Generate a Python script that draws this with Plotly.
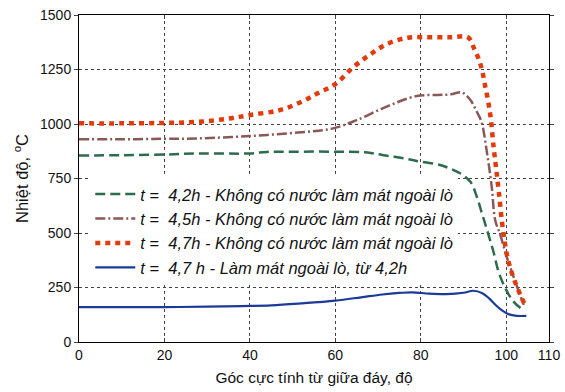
import plotly.graph_objects as go

# ---- data ----
x_42 = [0, 10, 20, 28, 40, 44, 50, 60, 67, 71, 77, 80, 84.5, 87, 89.2, 91.6, 93.1, 94.3, 95.5, 97, 98.2, 99.8, 101.7, 103.7]
y_42 = [855, 857, 860, 865, 865, 872, 873, 873, 870, 858, 839, 827, 812, 794, 774, 735, 667, 590, 514, 414, 322, 246, 185, 150]

x_45 = [0, 10, 20, 28, 40, 52, 59.5, 65, 72, 79, 84, 87, 89.6, 91.6, 93.1, 94.2, 95.5, 96.6, 97.4, 98.6, 100.2, 102.1, 104.1]
y_45 = [930, 930, 932, 934, 945, 962, 980, 1018, 1080, 1128, 1133, 1136, 1145, 1110, 1056, 1010, 866, 712, 560, 491, 385, 277, 170]

x_47 = [0, 10, 20, 28, 35, 40, 47, 52, 56, 60, 64, 68, 72, 77, 82, 87, 91, 92.5, 93.5, 94.3, 95, 95.8, 96.4, 97, 97.6, 98.3, 99, 99.7, 100.5, 101.7, 103.3, 104.5]
y_47 = [1003, 1003, 1005, 1010, 1025, 1041, 1064, 1101, 1142, 1183, 1257, 1317, 1366, 1396, 1398, 1398, 1398, 1345, 1300, 1250, 1180, 1100, 1020, 900, 800, 680, 550, 450, 370, 294, 216, 165]

x_cool = [0, 10, 20, 30, 38, 45, 52, 60, 66, 71, 75, 78, 82, 86, 90, 92.3, 94.3, 96, 97.5, 99, 100.5, 102.5, 104.7]
y_cool = [160, 160, 160, 162, 165, 168, 177, 190, 205, 218, 225, 228, 222, 220, 226, 235, 225, 200, 170, 145, 128, 120, 120]

names = [
    "<i>t</i> =  <i>4,2h - Không có nước làm mát ngoài lò</i>",
    "<i>t</i> =  <i>4,5h - Không có nước làm mát ngoài lò</i>",
    "<i>t</i> =  <i>4,7h - Không có nước làm mát ngoài lò</i>",
    "<i>t</i> =  <i>4,7 h - Làm mát ngoài lò, từ 4,2h</i>",
]

x_ticks = [0, 20, 40, 60, 80, 100, 110]
y_ticks = [0, 250, 500, 750, 1000, 1250, 1500]

FONT = "Liberation Sans, Arial, sans-serif"

fig = go.Figure()
fig.add_trace(go.Scatter(x=x_42, y=y_42, mode="lines", name=names[0],
                         line=dict(color="#2e6b4c", width=2.5, dash="10px,5px"), line_shape="spline"))
fig.add_trace(go.Scatter(x=x_45, y=y_45, mode="lines", name=names[1],
                         line=dict(color="#8a5858", width=2.5, dash="10px,3px,2px,3px"), line_shape="spline"))
fig.add_trace(go.Scatter(x=x_47, y=y_47, mode="lines", name=names[2],
                         line=dict(color="#e33a0c", width=4.5, dash="5px,5px"), line_shape="spline"))
fig.add_trace(go.Scatter(x=x_cool, y=y_cool, mode="lines", name=names[3],
                         line=dict(color="#1c3a98", width=2.2), line_shape="spline"))

fig.update_layout(
    width=565, height=392,
    margin=dict(l=79, r=16, t=15, b=50),
    paper_bgcolor="white", plot_bgcolor="white",
    font=dict(family=FONT, size=14, color="#111"),
    showlegend=True,
    legend=dict(x=0.024, y=0.505, xanchor="left", yanchor="top",
                bgcolor="white", borderwidth=0,
                font=dict(family=FONT, size=16.5, color="#111"),
                tracegroupgap=0, itemwidth=40),
)
fig.update_xaxes(range=[0, 110], tickvals=x_ticks, ticks="inside", ticklen=4,
                 showline=True, linecolor="black", linewidth=1, mirror="ticks",
                 showgrid=True, gridcolor="#444", griddash="dot", gridwidth=1,
                 zeroline=False, tickfont=dict(size=14), automargin=False,
                 title=dict(text="Góc cực tính từ giữa đáy, độ", font=dict(size=15.5), standoff=10))
fig.update_yaxes(range=[0, 1500], tickvals=y_ticks, ticks="outside", ticklen=4,
                 showline=True, linecolor="black", linewidth=1, mirror="ticks",
                 showgrid=True, gridcolor="#444", griddash="dot", gridwidth=1,
                 zeroline=False, tickfont=dict(size=14), automargin=False,
                 title=dict(text="Nhiệt độ, <sup>o</sup>C", font=dict(size=16.5), standoff=7))

fig.write_html("out.html")
